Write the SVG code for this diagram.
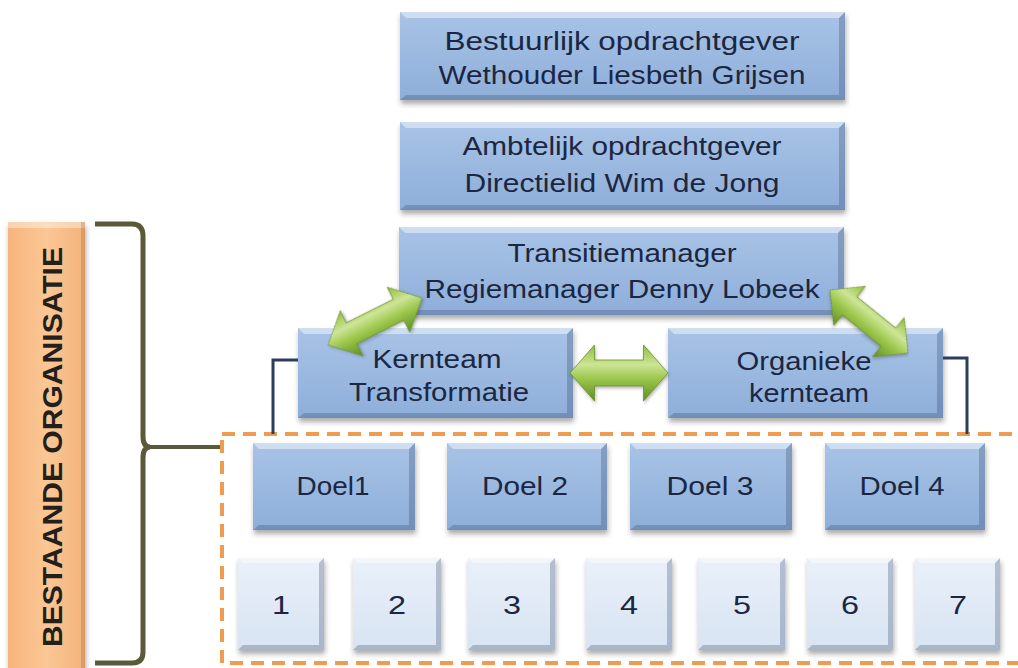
<svg xmlns="http://www.w3.org/2000/svg" width="1018" height="668" viewBox="0 0 1018 668">
<style>
  .t { font-family: "Liberation Sans", Arial, sans-serif; fill: #1b2742; text-anchor: middle; }
  .big { font-size: 26px; }
  .mid { font-size: 25px; }
  .num { font-size: 26px; }
  .box { fill: url(#gBlue); filter: url(#sh); }
  .sbox { fill: url(#gLight); filter: url(#sh); }
  .hl { fill: #ffffff; opacity: 0.45; }
  .dk { fill: #2a3f63; opacity: 0.28; }
  .conn { fill: none; stroke: #2c3e5e; stroke-width: 3; }
  .arrow { fill: url(#gGreen); stroke: #6a8f2a; stroke-width: 0.8; filter: url(#ash); }
</style>
<defs>
  <linearGradient id="gBlue" x1="0" y1="0" x2="0" y2="1">
    <stop offset="0" stop-color="#a8c3e6"/>
    <stop offset="1" stop-color="#8eaed9"/>
  </linearGradient>
  <linearGradient id="gLight" x1="0" y1="0" x2="0" y2="1">
    <stop offset="0" stop-color="#e9f0f9"/>
    <stop offset="1" stop-color="#d8e4f3"/>
  </linearGradient>
  <linearGradient id="gPeach" x1="0" y1="0" x2="1" y2="0">
    <stop offset="0" stop-color="#f6b47c"/>
    <stop offset="0.5" stop-color="#fbc795"/>
    <stop offset="1" stop-color="#f3b27a"/>
  </linearGradient>
  <linearGradient id="gGreen" x1="0" y1="0" x2="0" y2="1">
    <stop offset="0" stop-color="#8fbd3c"/>
    <stop offset="0.35" stop-color="#cde596"/>
    <stop offset="0.6" stop-color="#9cc74c"/>
    <stop offset="1" stop-color="#5f8f1f"/>
  </linearGradient>
  <filter id="sh" x="-10%" y="-20%" width="120%" height="150%">
    <feDropShadow dx="1" dy="4" stdDeviation="2.5" flood-color="#333" flood-opacity="0.4"/>
  </filter>
  <filter id="ash" x="-20%" y="-30%" width="140%" height="160%">
    <feDropShadow dx="1" dy="2" stdDeviation="1.5" flood-color="#333" flood-opacity="0.35"/>
  </filter>
  <path id="dblArrow" d="M-50,0 L-25,-28 L-25,-13 L25,-13 L25,-28 L50,0 L25,28 L25,13 L-25,13 L-25,28 Z"/>
</defs>

<rect width="1018" height="668" fill="#ffffff"/>

<!-- left label -->
<g id="label-bestaande">
  <rect x="8" y="222" width="77" height="460" fill="url(#gPeach)" filter="url(#sh)"/>
  <rect x="8" y="222" width="77" height="6" fill="#ffffff" opacity="0.4"/>
  <rect x="81" y="222" width="4" height="460" fill="#8a5a30" opacity="0.25"/>
  <text transform="translate(62,447) rotate(-90)" font-family="'Liberation Sans', Arial, sans-serif" font-weight="bold" font-size="28" fill="#231f1c" text-anchor="middle" textLength="400" lengthAdjust="spacingAndGlyphs">BESTAANDE ORGANISATIE</text>
</g>

<!-- bracket -->
<g id="bracket">
  <path d="M95,224 L132,224 Q143,224 143,236 L143,436 Q143,447 150,447 Q143,447 143,458 L143,652 Q143,663 132,663 L95,663" fill="none" stroke="#5a5a38" stroke-width="5"/>
  <line x1="148" y1="447" x2="223" y2="447" stroke="#5a5a38" stroke-width="4"/>
</g>

<!-- dashed region -->
<g id="region">
  <rect x="222" y="434" width="820" height="229" fill="none" stroke="#ef9b52" stroke-width="4" stroke-dasharray="13 8"/>
</g>

<!-- top boxes -->
<g id="bestuurlijk">
  <rect class="box" x="400" y="12" width="445" height="88"/>
  <polygon class="hl" points="400,12 845,12 839,18 406,18"/>
  <polygon class="dk" points="845,12 845,100 839,95 839,18"/>
  <polygon class="dk" points="400,100 845,100 839,95 406,95"/>
  <text class="t big" x="622" y="50" textLength="355" lengthAdjust="spacingAndGlyphs">Bestuurlijk opdrachtgever</text>
  <text class="t big" x="622" y="84" textLength="367" lengthAdjust="spacingAndGlyphs">Wethouder Liesbeth Grijsen</text>
</g>
<g id="ambtelijk">
  <rect class="box" x="400" y="122" width="445" height="88"/>
  <polygon class="hl" points="400,122 845,122 839,128 406,128"/>
  <polygon class="dk" points="845,122 845,210 839,205 839,128"/>
  <polygon class="dk" points="400,210 845,210 839,205 406,205"/>
  <text class="t big" x="622" y="155" textLength="319" lengthAdjust="spacingAndGlyphs">Ambtelijk opdrachtgever</text>
  <text class="t big" x="622" y="192" textLength="315" lengthAdjust="spacingAndGlyphs">Directielid Wim de Jong</text>
</g>
<g id="transitiemanager">
  <rect class="box" x="399" y="227" width="445" height="88"/>
  <polygon class="hl" points="399,227 844,227 838,233 405,233"/>
  <polygon class="dk" points="844,227 844,315 838,310 838,233"/>
  <polygon class="dk" points="399,315 844,315 838,310 405,310"/>
  <text class="t big" x="622" y="262" textLength="229" lengthAdjust="spacingAndGlyphs">Transitiemanager</text>
  <text class="t big" x="622" y="298" textLength="395" lengthAdjust="spacingAndGlyphs">Regiemanager Denny Lobeek</text>
</g>

<!-- kernteams -->
<g id="kernteam-transformatie">
  <rect class="box" x="298" y="328" width="275" height="90"/>
  <polygon class="hl" points="298,328 573,328 567,334 304,334"/>
  <polygon class="dk" points="573,328 573,418 567,413 567,334"/>
  <polygon class="dk" points="298,418 573,418 567,413 304,413"/>
  <text class="t big" x="437" y="368" textLength="129" lengthAdjust="spacingAndGlyphs">Kernteam</text>
  <text class="t big" x="439" y="401" textLength="180" lengthAdjust="spacingAndGlyphs">Transformatie</text>
</g>
<g id="organieke-kernteam">
  <rect class="box" x="668" y="328" width="275" height="90"/>
  <polygon class="hl" points="668,328 943,328 937,334 674,334"/>
  <polygon class="dk" points="943,328 943,418 937,413 937,334"/>
  <polygon class="dk" points="668,418 943,418 937,413 674,413"/>
  <text class="t big" x="804" y="370" textLength="135" lengthAdjust="spacingAndGlyphs">Organieke</text>
  <text class="t big" x="809" y="402" textLength="120" lengthAdjust="spacingAndGlyphs">kernteam</text>
</g>

<!-- doelen -->
<g id="doel1">
  <rect class="box" x="253" y="443" width="162" height="87"/>
  <polygon class="hl" points="253,443 415,443 409,449 259,449"/>
  <polygon class="dk" points="415,443 415,530 409,525 409,449"/>
  <polygon class="dk" points="253,530 415,530 409,525 259,525"/>
  <text class="t mid" x="333" y="495" textLength="73" lengthAdjust="spacingAndGlyphs">Doel1</text>
</g>
<g id="doel2">
  <rect class="box" x="447" y="443" width="160" height="87"/>
  <polygon class="hl" points="447,443 607,443 601,449 453,449"/>
  <polygon class="dk" points="607,443 607,530 601,525 601,449"/>
  <polygon class="dk" points="447,530 607,530 601,525 453,525"/>
  <text class="t mid" x="525" y="495" textLength="86" lengthAdjust="spacingAndGlyphs">Doel 2</text>
</g>
<g id="doel3">
  <rect class="box" x="630" y="443" width="162" height="87"/>
  <polygon class="hl" points="630,443 792,443 786,449 636,449"/>
  <polygon class="dk" points="792,443 792,530 786,525 786,449"/>
  <polygon class="dk" points="630,530 792,530 786,525 636,525"/>
  <text class="t mid" x="710" y="495" textLength="87" lengthAdjust="spacingAndGlyphs">Doel 3</text>
</g>
<g id="doel4">
  <rect class="box" x="825" y="443" width="160" height="87"/>
  <polygon class="hl" points="825,443 985,443 979,449 831,449"/>
  <polygon class="dk" points="985,443 985,530 979,525 979,449"/>
  <polygon class="dk" points="825,530 985,530 979,525 831,525"/>
  <text class="t mid" x="902" y="495" textLength="85" lengthAdjust="spacingAndGlyphs">Doel 4</text>
</g>

<!-- numbered boxes -->
<g id="n1">
  <rect class="sbox" x="238" y="558" width="86" height="92"/>
  <polygon class="hl" points="238,558 324,558 319,563 243,563"/>
  <polygon class="dk" points="324,558 324,650 319,645 319,563"/>
  <polygon class="dk" points="238,650 324,650 319,645 243,645"/>
  <text class="t num" x="281" y="614" textLength="18" lengthAdjust="spacingAndGlyphs">1</text>
</g>
<g id="n2">
  <rect class="sbox" x="353" y="558" width="88" height="92"/>
  <polygon class="hl" points="353,558 441,558 436,563 358,563"/>
  <polygon class="dk" points="441,558 441,650 436,645 436,563"/>
  <polygon class="dk" points="353,650 441,650 436,645 358,645"/>
  <text class="t num" x="397" y="614" textLength="18" lengthAdjust="spacingAndGlyphs">2</text>
</g>
<g id="n3">
  <rect class="sbox" x="468" y="558" width="87" height="92"/>
  <polygon class="hl" points="468,558 555,558 550,563 473,563"/>
  <polygon class="dk" points="555,558 555,650 550,645 550,563"/>
  <polygon class="dk" points="468,650 555,650 550,645 473,645"/>
  <text class="t num" x="512" y="614" textLength="18" lengthAdjust="spacingAndGlyphs">3</text>
</g>
<g id="n4">
  <rect class="sbox" x="586" y="558" width="86" height="92"/>
  <polygon class="hl" points="586,558 672,558 667,563 591,563"/>
  <polygon class="dk" points="672,558 672,650 667,645 667,563"/>
  <polygon class="dk" points="586,650 672,650 667,645 591,645"/>
  <text class="t num" x="629" y="614" textLength="18" lengthAdjust="spacingAndGlyphs">4</text>
</g>
<g id="n5">
  <rect class="sbox" x="698" y="558" width="87" height="92"/>
  <polygon class="hl" points="698,558 785,558 780,563 703,563"/>
  <polygon class="dk" points="785,558 785,650 780,645 780,563"/>
  <polygon class="dk" points="698,650 785,650 780,645 703,645"/>
  <text class="t num" x="742" y="614" textLength="18" lengthAdjust="spacingAndGlyphs">5</text>
</g>
<g id="n6">
  <rect class="sbox" x="807" y="558" width="86" height="92"/>
  <polygon class="hl" points="807,558 893,558 888,563 812,563"/>
  <polygon class="dk" points="893,558 893,650 888,645 888,563"/>
  <polygon class="dk" points="807,650 893,650 888,645 812,645"/>
  <text class="t num" x="850" y="614" textLength="18" lengthAdjust="spacingAndGlyphs">6</text>
</g>
<g id="n7">
  <rect class="sbox" x="915" y="558" width="85" height="92"/>
  <polygon class="hl" points="915,558 1000,558 995,563 920,563"/>
  <polygon class="dk" points="1000,558 1000,650 995,645 995,563"/>
  <polygon class="dk" points="915,650 1000,650 995,645 920,645"/>
  <text class="t num" x="958" y="614" textLength="18" lengthAdjust="spacingAndGlyphs">7</text>
</g>

<!-- connectors (drawn on top, as in the reference) -->
<g id="connectors">
  <polyline class="conn" points="298,360 273,360 273,434"/>
  <polyline class="conn" points="943,358 967,358 967,434"/>
  <use href="#dblArrow" class="arrow" transform="translate(375,321.5) rotate(-26.6) scale(1.05,0.9)"/>
  <use href="#dblArrow" class="arrow" transform="translate(619,373) scale(0.98,1)"/>
  <use href="#dblArrow" class="arrow" transform="translate(869,321.5) rotate(38.9) scale(1,0.9)"/>
</g>
</svg>
